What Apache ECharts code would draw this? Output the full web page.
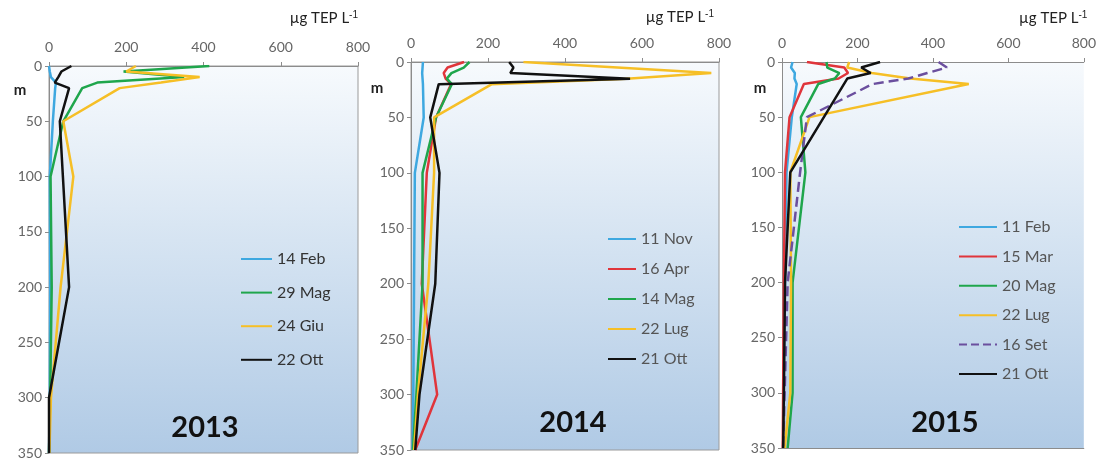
<!DOCTYPE html>
<html>
<head>
<meta charset="utf-8">
<script src="https://cdn.jsdelivr.net/npm/echarts@6/dist/echarts.min.js"></script>
<style>
  html, body { margin: 0; padding: 0; background: #fff; }
  #chart { width: 1099px; height: 461px; }
</style>
</head>
<body>
<div id="chart"></div>
<script>
// depth (m) of the samples, shared by all profiles
const depths = [0, 5, 10, 15, 20, 50, 100, 200, 300, 350]
const xTicks = [0, 200, 400, 600, 800]

// 2013
const feb13 = [0, 2, 5, 18, 16, 10, 2, 3, 2, 0]
const mag13 = [415, 193, 350, 125, 86, 37, 4, 7, 3, 0]
const giu13 = [225, 200, 390, 290, 183, 37, 63, 30, 5, 1]
const ott13 = [58, 32, 24, 15, 52, 28, 36, 52, 0, 0]

// 2014
const nov14 = [31, 30, 29, 30, 31, 33, 10, 8, 6, 4]
const apr14 = [138, 95, 85, 90, 104, 65, 41, 28, 68, 11]
const mag14 = [152, 137, 105, 93, 106, 65, 30, 30, 14, 5]
const lug14 = [292, null, 780, 560, 210, 60, 60, 45, 18, 8]
const ott14 = [255, 266, 258, 569, 72, 50, 74, 63, 22, 11]

// 2015
const feb15 = [28, 24, 34, 33, 39, 26, 12, 8, 4, 3]
const mar15 = [66, 165, 175, 150, 58, 20, 8, 5, 3, 2]
const mag15 = [118, 120, 152, 140, 96, 50, 62, 28, 28, 15]
const lug15 = [178, 173, 238, 340, 495, 73, 22, 24, 22, 7]
const set15 = [415, 437, 385, 335, 240, 66, 48, 15, 7, 3]
const ott15 = [260, 210, 235, 173, null, null, 22, 8, 5, 3]

const C = {
  blue: '#3ea8e0', green: '#1fa64c', yellow: '#f6bf26',
  black: '#111111', red: '#e0353b', purple: '#6b4f9e'
}

function profile(vals) {
  return vals.map((v, i) => [v, depths[i]])
}

function line(name, vals, color, idx, dashed) {
  return {
    name: name,
    type: 'line',
    xAxisIndex: idx,
    yAxisIndex: idx,
    data: profile(vals),
    symbol: 'none',
    connectNulls: true,
    lineStyle: { color: color, width: 2.5, type: dashed ? 'dashed' : 'solid' },
    itemStyle: { color: color },
    z: 3
  }
}

const grids = [
  { left: 49, top: 66, width: 309, height: 387 },
  { left: 411, top: 62, width: 308, height: 388 },
  { left: 782, top: 62, width: 313, height: 386 }
]

const bg = {
  type: 'linear', x: 0, y: 0, x2: 0, y2: 1,
  colorStops: [
    { offset: 0, color: '#f7fafd' },
    { offset: 0.45, color: '#d6e4f2' },
    { offset: 1, color: '#b0cae5' }
  ]
}

const labelStyle = { color: '#666', fontSize: 14, fontFamily: 'Lato' }

const xAxes = grids.map((g, i) => ({
  type: 'value', gridIndex: i, position: 'top',
  min: 0, max: 800, interval: 200,
  axisLine: { show: true, lineStyle: { color: '#8c8c8c', width: 1 } },
  axisTick: { show: true, length: 4, lineStyle: { color: '#8c8c8c' } },
  axisLabel: Object.assign({ margin: 12 }, labelStyle),
  splitLine: { show: false }
}))
// bottom frame line for the last panel (its right edge is cut off)
xAxes.push({
  type: 'value', gridIndex: 2, position: 'bottom', min: 0, max: 800,
  axisLine: { show: true, onZero: false, lineStyle: { color: '#8c8c8c' } },
  axisTick: { show: false }, axisLabel: { show: false }, splitLine: { show: false }
})

const yAxes = grids.map((g, i) => ({
  type: 'value', gridIndex: i, inverse: true,
  min: 0, max: 350, interval: 50,
  axisLine: { show: true, onZero: false, lineStyle: { color: '#8c8c8c', width: 1 } },
  axisTick: { show: true, length: 4, lineStyle: { color: '#8c8c8c' } },
  axisLabel: Object.assign({ margin: 7 }, labelStyle),
  splitLine: { show: false }
}))

const legendText = { fontSize: 16, color: '#333', fontFamily: 'Lato' }
// legend shows only the line, no symbol
const legendBase = {
  orient: 'vertical', itemHeight: 14, selectedMode: false,
  itemStyle: { opacity: 0 }
}

let myChart = echarts.init(document.getElementById('chart'))
myChart.setOption({
  backgroundColor: '#ffffff',
  animation: false,
  grid: grids.map((g, i) => Object.assign({
    show: true,
    backgroundColor: bg,
    borderColor: i === 2 ? 'transparent' : '#9a9a9a',
    borderWidth: 1
  }, g)),
  xAxis: xAxes,
  yAxis: yAxes,
  legend: [
    Object.assign({}, legendBase, {
      data: ['14 Feb', '29 Mag', '24 Giu', '22 Ott'],
      left: 235, top: 246, itemWidth: 31, itemGap: 17.6,
      textStyle: legendText
    }),
    Object.assign({}, legendBase, {
      data: ['11 Nov', '16 Apr', '14 Mag', '22 Lug', '21 Ott'],
      left: 602, top: 226, itemWidth: 28, itemGap: 14,
      textStyle: Object.assign({}, legendText, { color: '#555' })
    }),
    Object.assign({}, legendBase, {
      data: ['11 Feb', '15 Mar', '20 Mag', '22 Lug', '16 Set', '21 Ott'],
      left: 953, top: 214, itemWidth: 38, itemGap: 13.4,
      textStyle: Object.assign({}, legendText, { color: '#555' })
    })
  ],
  graphic: [
    { type: 'text', x: 358, y: 18, style: { text: 'µg TEP L{s|-1}', rich: { s: { fontSize: 10, verticalAlign: 'top' } }, font: '15px Lato', fill: '#222', align: 'right', verticalAlign: 'middle' } },
    { type: 'text', x: 714, y: 17, style: { text: 'µg TEP L{s|-1}', rich: { s: { fontSize: 10, verticalAlign: 'top' } }, font: '15px Lato', fill: '#222', align: 'right', verticalAlign: 'middle' } },
    { type: 'text', x: 1019, y: 18, style: { text: 'µg TEP L{s|-1}', rich: { s: { fontSize: 10, verticalAlign: 'top' } }, font: '15px Lato', fill: '#222', align: 'left', verticalAlign: 'middle' } },
    { type: 'text', x: 20, y: 90, style: { text: 'm', font: 'bold 15px Lato', fill: '#222', align: 'center', verticalAlign: 'middle' } },
    { type: 'text', x: 377, y: 88, style: { text: 'm', font: 'bold 15px Lato', fill: '#222', align: 'center', verticalAlign: 'middle' } },
    { type: 'text', x: 760, y: 88, style: { text: 'm', font: 'bold 15px Lato', fill: '#222', align: 'center', verticalAlign: 'middle' } },
    { type: 'text', x: 205, y: 428, z: 10, style: { text: '2013', font: 'bold 29px Lato', fill: '#111', align: 'center', verticalAlign: 'middle' } },
    { type: 'text', x: 573, y: 423, z: 10, style: { text: '2014', font: 'bold 29px Lato', fill: '#111', align: 'center', verticalAlign: 'middle' } },
    { type: 'text', x: 945, y: 423, z: 10, style: { text: '2015', font: 'bold 29px Lato', fill: '#111', align: 'center', verticalAlign: 'middle' } }
  ],
  series: [
    line('14 Feb', feb13, C.blue, 0),
    line('29 Mag', mag13, C.green, 0),
    line('24 Giu', giu13, C.yellow, 0),
    line('22 Ott', ott13, C.black, 0),

    line('11 Nov', nov14, C.blue, 1),
    line('16 Apr', apr14, C.red, 1),
    line('14 Mag', mag14, C.green, 1),
    line('22 Lug', lug14, C.yellow, 1),
    line('21 Ott', ott14, C.black, 1),

    line('11 Feb', feb15, C.blue, 2),
    line('15 Mar', mar15, C.red, 2),
    line('20 Mag', mag15, C.green, 2),
    line('22 Lug', lug15, C.yellow, 2),
    line('16 Set', set15, C.purple, 2, true),
    line('21 Ott', ott15, C.black, 2)
  ]
})
</script>
</body>
</html>
